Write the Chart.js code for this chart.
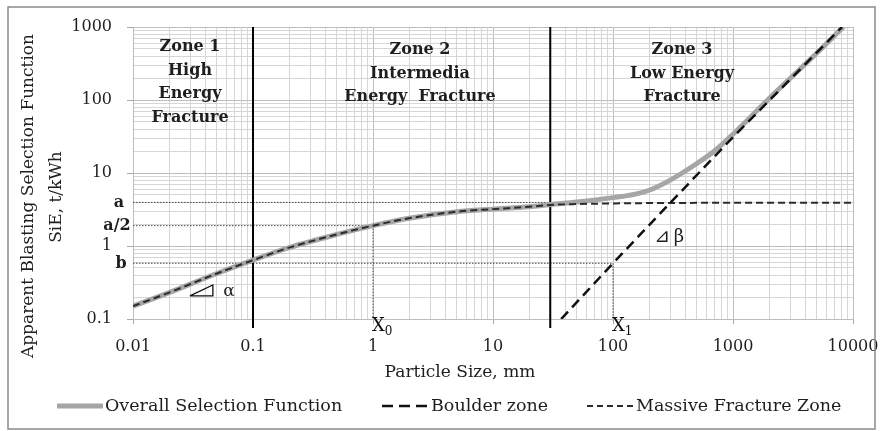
<!DOCTYPE html>
<html><head><meta charset="utf-8">
<script src="https://cdn.jsdelivr.net/npm/chart.js@4.4.1/dist/chart.umd.min.js"></script>
<style>html,body{margin:0;padding:0;background:#fff;}#wrap{width:880px;height:431px;}</style>
</head><body><div id="wrap"><canvas id="c" width="880" height="431"></canvas></div>
<script>
// ---- data ----
const massiveX = [0.01,0.02,0.05,0.1,0.2,0.5,1,2,5,10,20,30,50,100,200,500,1000,2000,5000,10000];
const massiveY = [0.15,0.23,0.42,0.64,0.95,1.44,1.9,2.4,2.95,3.2,3.45,3.65,3.75,3.83,3.87,3.9,3.92,3.92,3.92,3.92];
const overallX = [0.01,0.02,0.05,0.1,0.2,0.5,1,2,5,10,20,30,50,100,150,200,300,500,700,1000,2000,5000,8300];
const overallY = [0.15,0.23,0.42,0.64,0.95,1.44,1.9,2.4,2.95,3.2,3.45,3.7,4.0,4.6,5.1,5.8,8.0,13.5,20,34,105,440,1000];
const boulderX = [37,100,300,1000,8100];
const boulderY = [0.1,0.58,3.9,31,1000];
const aLevel = 3.95, a2Level = 1.9, bLevel = 0.58;
const x0Value = 1, x1Value = 100;
const zoneBounds = [0.1, 30];
const alphaTriX = [0.0298,0.0463,0.0463,0.0298];
const alphaTriY = [0.207,0.207,0.292,0.207];
const xTickLabels = ['0.01','0.1','1','10','100','1000','10000'];
const yTickLabels = ['0.1','1','10','100','1000'];
const seriesNames = ['Overall Selection Function','Boulder zone','Massive Fracture Zone'];
const zoneTexts = [['Zone 1','High','Energy','Fracture'],['Zone 2','Intermedia','Energy  Fracture'],['Zone 3','Low Energy','Fracture']];

const pts = (xs, ys) => xs.map((x, i) => ({x, y: ys[i]}));
const SERIF = '"DejaVu Serif", serif';
const TXT = '#1e1e1e';

function logTicks(min, max){
  const out = [];
  for (let e = Math.round(Math.log10(min)); e < Math.round(Math.log10(max)); e++){
    for (let m = 1; m < 10; m++) out.push(parseFloat((m*Math.pow(10,e)).toPrecision(6)));
  }
  out.push(max);
  return out;
}
const isPow10 = v => Math.abs(Math.log10(v) - Math.round(Math.log10(v))) < 1e-9;
function labelFor(v, list){
  const s = list.find(t => Math.abs(parseFloat(t) - v) < 1e-9*Math.max(1,v));
  return s || '';
}

const dotted = {borderColor:'#4a4a4a', borderWidth:1, borderDash:[1.5,1.5], pointRadius:0, fill:false, order:5};
const zoneLine = {borderColor:'#000', borderWidth:2, pointRadius:0, fill:false, clip:false, order:4};

const datasets = [
  {label: seriesNames[0], data: pts(overallX, overallY), borderColor:'#a6a6a6', borderWidth:5, pointRadius:0, cubicInterpolationMode:'monotone', order:3},
  {label: seriesNames[1], data: pts(boulderX, boulderY), borderColor:'#111', borderWidth:2.5, borderDash:[10,6], pointRadius:0, order:1},
  {label: seriesNames[2], data: pts(massiveX, massiveY), borderColor:'#2b2b2b', borderWidth:2, borderDash:[7,4], pointRadius:0, cubicInterpolationMode:'monotone', order:2},
  Object.assign({label:'a', data: pts([0.01, zoneBounds[1]], [aLevel, aLevel])}, dotted),
  Object.assign({label:'a/2', data: pts([0.01, x0Value, x0Value], [a2Level, a2Level, 0.1])}, dotted),
  Object.assign({label:'b', data: pts([0.01, x1Value, x1Value], [bLevel, bLevel, 0.095])}, dotted, {clip:false}),
  Object.assign({label:'z1', data: pts([zoneBounds[0], zoneBounds[0]], [1000, 0.075])}, zoneLine),
  Object.assign({label:'z2', data: pts([zoneBounds[1], zoneBounds[1]], [1000, 0.075])}, zoneLine),
  {label:'alpha', data: pts(alphaTriX, alphaTriY), borderColor:'#111', borderWidth:1.3, pointRadius:0, order:0}
];

const gridColor = ctx => (ctx.tick && isPow10(ctx.tick.value)) ? '#bdbdbd' : '#d6d6d6';
const tickColor = ctx => (ctx.tick && isPow10(ctx.tick.value)) ? '#a8a8a8' : 'rgba(0,0,0,0)';

const annot = {
  id: 'annot',
  beforeDraw(chart){
    const c = chart.ctx; c.save(); c.fillStyle = '#fff'; c.fillRect(0,0,chart.width,chart.height); c.restore();
  },
  afterDraw(chart){
    const c = chart.ctx, xs = chart.scales.x, ys = chart.scales.y;
    c.save();
    // outer border
    c.strokeStyle = '#8a8a8a'; c.lineWidth = 1.5; c.strokeRect(8, 7, 867, 422);
    c.fillStyle = TXT;
    // zone texts
    c.font = 'bold 16px ' + SERIF; c.textAlign = 'center'; c.textBaseline = 'middle';
    const zx = [190, 420, 682], zy0 = [47, 50, 50];
    zoneTexts.forEach((lines, i) => lines.forEach((t, j) => c.fillText(t, zx[i], zy0[i] + j*23.5)));
    // a, a/2, b labels
    c.font = 'bold 16px ' + SERIF;
    c.fillText('a', 119, ys.getPixelForValue(aLevel));
    c.fillText('a/2', 117, ys.getPixelForValue(a2Level));
    c.fillText('b', 121, ys.getPixelForValue(bLevel) + 1);
    // X0, X1
    c.fillStyle = '#111';
    const drawX = (val, sub) => {
      const px = xs.getPixelForValue(val);
      c.font = '18px ' + SERIF; c.textAlign = 'left'; c.fillText('X', px - 1, 326);
      const w = c.measureText('X').width;
      c.font = '12px ' + SERIF; c.fillText(sub, px - 1 + w, 332);
    };
    drawX(x0Value, '0'); drawX(x1Value, '1');
    c.fillStyle = TXT;
    // alpha, beta
    c.font = '17px ' + SERIF; c.textAlign = 'center';
    c.fillText('α', 229, 292);
    c.font = '19px "DejaVu Sans"'; c.fillText('⊿', 662, 237);
    c.font = '18px ' + SERIF; c.fillText('β', 679, 237);
    // axis titles
    c.font = '17px ' + SERIF; c.textAlign = 'center';
    c.fillText('Particle Size, mm', 460, 373);
    c.save(); c.translate(29, 196); c.rotate(-Math.PI/2); c.fillText('Apparent Blasting Selection Function', 0, 0); c.restore();
    c.save(); c.translate(57, 197); c.rotate(-Math.PI/2); c.fillText('SiE, t/kWh', 0, 0); c.restore();
    // legend
    const ly = 406;
    c.textAlign = 'left'; c.font = '17.5px ' + SERIF;
    c.lineCap = 'butt';
    c.strokeStyle = '#a6a6a6'; c.lineWidth = 5; c.setLineDash([]);
    c.beginPath(); c.moveTo(57, ly); c.lineTo(103, ly); c.stroke();
    c.fillText(seriesNames[0], 105, ly);
    c.strokeStyle = '#111'; c.lineWidth = 2.5; c.setLineDash([11,6]);
    c.beginPath(); c.moveTo(382, ly); c.lineTo(427, ly); c.stroke();
    c.fillText(seriesNames[1], 431, ly);
    c.strokeStyle = '#2b2b2b'; c.lineWidth = 2; c.setLineDash([6,4]);
    c.beginPath(); c.moveTo(587, ly); c.lineTo(633, ly); c.stroke();
    c.setLineDash([]);
    c.fillText(seriesNames[2], 636, ly);
    c.restore();
  }
};

new Chart(document.getElementById('c'), {
  type: 'line',
  data: {datasets},
  options: {
    responsive: false, animation: false, devicePixelRatio: 1,
    layout: {padding: {left: 0, top: 27, right: 27, bottom: 0}},
    plugins: {legend: {display: false}, tooltip: {enabled: false}},
    scales: {
      x: {
        type: 'logarithmic', position: 'bottom', min: 0.01, max: 10000,
        afterBuildTicks: s => { s.ticks = logTicks(0.01, 10000).map(v => ({value: v, major: isPow10(v)})); },
        afterFit: s => { s.height = 112; s.paddingLeft = 0; s.paddingRight = 0; },
        ticks: {autoSkip: false, maxRotation: 0, minRotation: 0, padding: 13, color: TXT,
                font: {family: SERIF, size: 16}, callback: v => labelFor(v, xTickLabels)},
        grid: {color: gridColor, tickColor: tickColor, tickLength: 5, lineWidth: 1},
        border: {color: '#bdbdbd'}
      },
      y: {
        type: 'logarithmic', position: 'left', min: 0.1, max: 1000,
        afterBuildTicks: s => { s.ticks = logTicks(0.1, 1000).map(v => ({value: v, major: isPow10(v)})); },
        afterFit: s => { s.width = 133; s.paddingTop = 0; s.paddingBottom = 0; },
        ticks: {autoSkip: false, padding: 15, color: TXT,
                font: {family: SERIF, size: 16}, callback: v => labelFor(v, yTickLabels)},
        grid: {color: gridColor, tickColor: tickColor, tickLength: 6, lineWidth: 1},
        border: {color: '#bdbdbd'}
      }
    }
  },
  plugins: [annot]
});
</script>
</body></html>
